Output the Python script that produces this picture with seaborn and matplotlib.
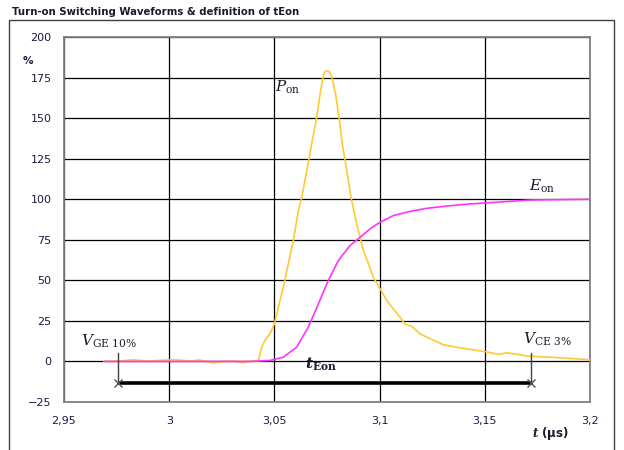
import numpy as np
import pandas as pd
import matplotlib
matplotlib.use("Agg")
import matplotlib.pyplot as plt
from matplotlib.patches import Rectangle
import seaborn as sns

# Turn-on power P_on (% of reference) versus time (µs)
pon_t = [2.969, 2.976, 2.983, 2.990, 2.997, 3.003, 3.010, 3.0145, 3.0208, 3.026,
         3.030, 3.035, 3.0385, 3.0424, 3.044, 3.0455, 3.0479, 3.050, 3.0519,
         3.0542, 3.0566, 3.059, 3.0614, 3.063, 3.0654, 3.0677, 3.0701, 3.0717,
         3.0732, 3.0740, 3.0749, 3.0760, 3.0772, 3.0791, 3.0807, 3.0823, 3.0844,
         3.0864, 3.0891, 3.0907, 3.0923, 3.0939, 3.097, 3.1002, 3.1034, 3.1065,
         3.1097, 3.1121, 3.1153, 3.1192, 3.124, 3.1303, 3.1382, 3.1445, 3.1493,
         3.1517, 3.1564, 3.1604, 3.165, 3.170, 3.1857, 3.200]
pon_v = [0.0, 0.3, 1.0, 0.2, 0.8, 1.0, 0.3, 0.9, -1.0, 0.2,
         0.4, -0.9, 0.2, 0.6, 8.8, 13.0, 17.0, 23.2, 33.4,
         45.7, 60.0, 74.5, 93.0, 101.2, 117.6, 134.0, 150.4, 164.8,
         176.0, 178.5, 179.2, 178.6, 176.0, 164.8, 150.4, 134.0, 117.6,
         101.2, 84.8, 76.5, 68.3, 63.0, 52.0, 44.8, 37.6, 32.4,
         27.3, 22.8, 21.7, 17.0, 14.0, 10.3, 8.4, 7.2, 6.2,
         5.7, 4.3, 5.3, 4.5, 3.3, 2.3, 1.0]

# Turn-on energy E_on (% of final value) versus time (µs)
eon_t = [2.969, 3.000, 3.030, 3.0384, 3.0479, 3.0542, 3.0606, 3.0661, 3.0709,
         3.0756, 3.0804, 3.0859, 3.0907, 3.0954, 3.1002, 3.1065, 3.1144, 3.1224,
         3.1335, 3.143, 3.1525, 3.1715, 3.200]
eon_v = [0.0, 0.0, 0.0, 0.0, 0.6, 2.6, 8.8, 21.1, 35.5,
         49.9, 62.2, 71.4, 76.5, 81.7, 85.8, 89.9, 92.5, 94.4,
         96.0, 97.1, 97.9, 99.5, 100.0]

# Integration window t_Eon between V_GE 10% and V_CE 3%
window_t = [2.9758, 3.1718]
window_level = -13.0
marker_top = 5.0

x_ticks = [2.95, 3.0, 3.05, 3.1, 3.15, 3.2]
x_tick_labels = ["2,95", "3", "3,05", "3,1", "3,15", "3,2"]
y_ticks = [-25, 0, 25, 50, 75, 100, 125, 150, 175, 200]

pon_color = "#FFC933"
eon_color = "#FF33FF"

sns.set_theme(style="white")
plt.rcParams["font.family"] = ["DejaVu Sans"]
plt.rcParams["mathtext.fontset"] = "dejavuserif"

fig = plt.figure(figsize=(6.24, 4.5), dpi=100)
ax = fig.add_axes([64 / 624, 1 - 402 / 450, (590 - 64) / 624, (402 - 37) / 450])

pon_df = pd.DataFrame({"t": pon_t, "v": pon_v})
eon_df = pd.DataFrame({"t": eon_t, "v": eon_v})
sns.lineplot(data=pon_df, x="t", y="v", ax=ax, color=pon_color, lw=1.2,
             sort=False, estimator=None, zorder=3, solid_joinstyle="round")
sns.lineplot(data=eon_df, x="t", y="v", ax=ax, color=eon_color, lw=1.2,
             sort=False, estimator=None, zorder=4, solid_joinstyle="round")

# window arrow and end markers
ax.plot(window_t, [window_level, window_level], color="black", lw=2.6,
        solid_capstyle="butt", zorder=5)
for tx in window_t:
    ax.plot([tx, tx], [window_level, marker_top], color="#404040", lw=1.0, zorder=5)
ax.plot(window_t, [window_level, window_level], ls="none", marker="x",
        ms=6, mew=1.0, color="#505050", zorder=6)

ax.set_xlim(2.95, 3.2)
ax.set_ylim(-25, 200)
ax.set_xticks(x_ticks)
ax.set_xticklabels(x_tick_labels)
ax.set_yticks(y_ticks)
ax.grid(True, color="black", lw=0.9)
ax.set_axisbelow(True)
for s in ax.spines.values():
    s.set_color("#808080")
    s.set_linewidth(1.3)
ax.tick_params(axis="both", which="major", direction="out", length=5,
               width=1.2, color="#606060", labelsize=8, labelcolor="#1a1a40")
ax.tick_params(axis="x", pad=5)
ax.tick_params(axis="y", pad=4)
ax.set_xlabel("")
ax.set_ylabel("")

# curve and marker labels
tf = dict(fontsize=11, color="#1a1a30", ha="center", va="center", zorder=7)
ax.text(3.0565, 169, r"$P_{\mathrm{on}}$", **tf)
ax.text(3.1772, 108, r"$E_{\mathrm{on}}$", **tf)
ax.text(2.9714, 12.3, r"$V_{\mathrm{GE\ 10\%}}$", **tf)
ax.text(3.1796, 13.5, r"$V_{\mathrm{CE\ 3\%}}$", **tf)
ax.text(3.0721, -1.8, r"$\boldsymbol{t}_{\mathbf{Eon}}$", **tf)

# axis captions
fig.text(28 / 624, 1 - 61 / 450, "%", fontsize=7.5, fontweight="bold",
         color="#1a1a30", ha="center", va="center")
fig.text(550 / 624, 1 - 433 / 450, r"$\boldsymbol{t}$ (µs)", fontsize=8.5,
         fontweight="bold", color="#1a1a30", ha="center", va="center")

# chart title and frame
fig.text(12 / 624, 1 - 12 / 450, "Turn-on Switching Waveforms & definition of tEon",
         fontsize=7.3, fontweight="bold", color="#1a1a30", ha="left", va="center")
fig.patches.append(Rectangle((9 / 624, -0.05), (614 - 9) / 624, 1.05 - 20 / 450,
                             transform=fig.transFigure, fill=False,
                             edgecolor="#404040", lw=1.0))

fig.savefig("out.png", dpi=100)
